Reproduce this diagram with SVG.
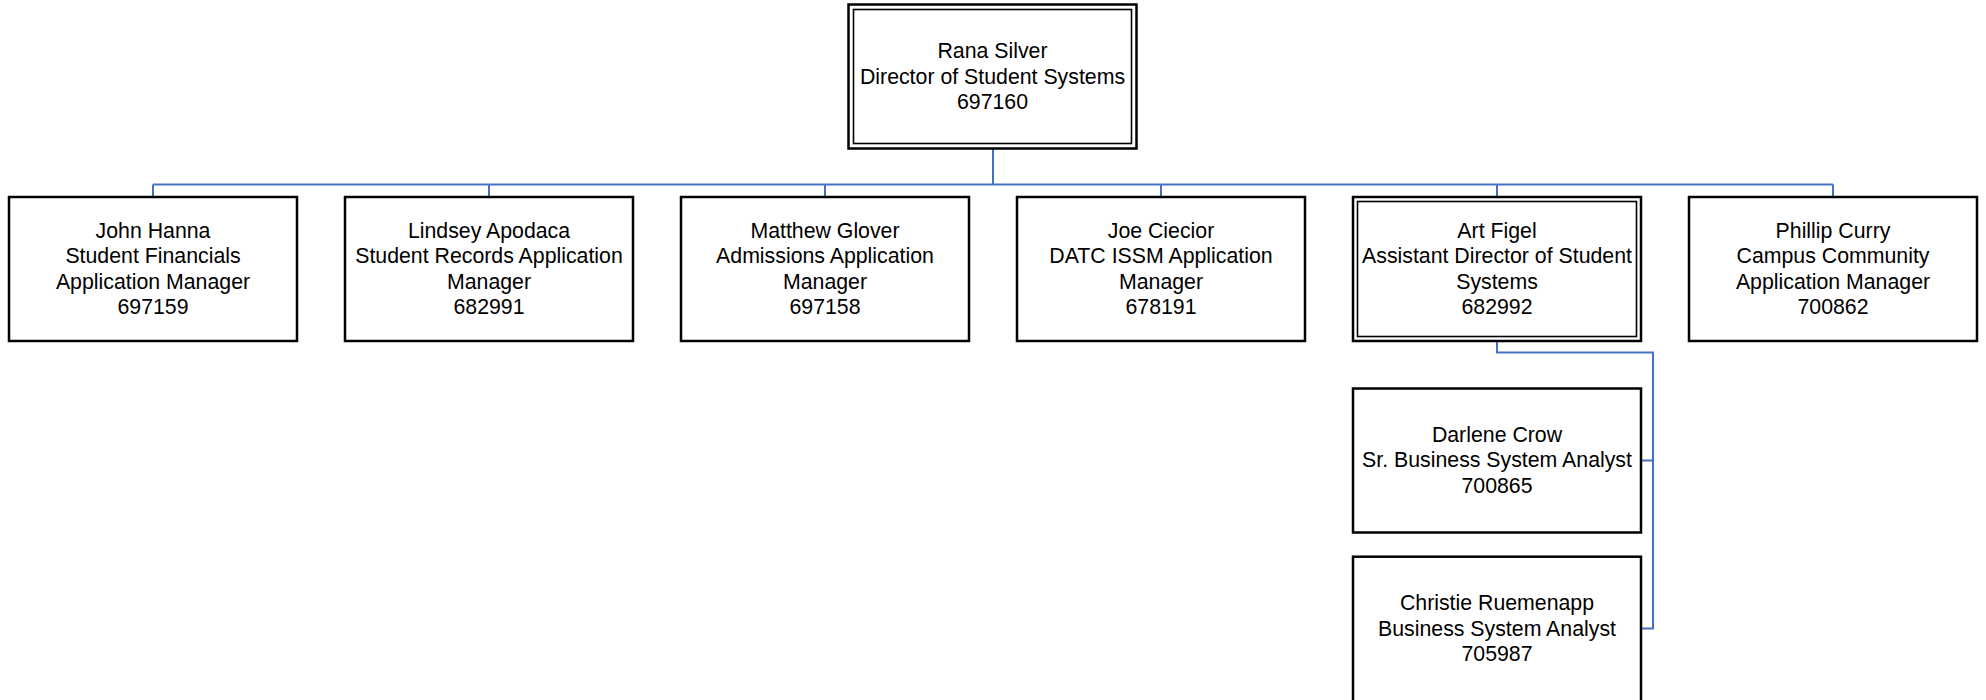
<svg xmlns="http://www.w3.org/2000/svg" width="1986" height="700" viewBox="0 0 1986 700">
<style>
  .box { fill: #ffffff; stroke: #000000; stroke-width: 2.5; }
  .inner { fill: none; stroke: #000000; stroke-width: 1.6; }
  .lbl { font-family: "Liberation Sans", Arial, sans-serif; font-size: 21.3px; fill: #000000; text-anchor: middle; }
  .conn { fill: none; stroke: #4472C4; stroke-width: 2; }
</style>
<rect width="1986" height="700" fill="#ffffff"/>
<g id="connectors">
  <path class="conn" d="M993 148.5 V184.5"/>
  <path class="conn" d="M153 184.5 H1833"/>
  <path class="conn" d="M153 184.5 V197 M489 184.5 V197 M825 184.5 V197 M1161 184.5 V197 M1497 184.5 V197 M1833 184.5 V197"/>
  <path class="conn" d="M1497 341 V352.5 H1653 V628.5 H1641 M1653 460.5 H1641"/>
</g>
<g id="rana-silver">
  <rect class="box" x="848.5" y="4.5" width="288" height="144"/>
  <rect class="inner" x="853.5" y="9.5" width="278" height="134"/>
  <text class="lbl" x="992.5"><tspan x="992.5" y="58">Rana Silver</tspan><tspan x="992.5" y="83.5">Director of Student Systems</tspan><tspan x="992.5" y="109">697160</tspan></text>
</g>
<g id="john-hanna">
  <rect class="box" x="9" y="197" width="288" height="144"/>
  <text class="lbl"><tspan x="153" y="237.8">John Hanna</tspan><tspan x="153" y="263.3">Student Financials</tspan><tspan x="153" y="288.8">Application Manager</tspan><tspan x="153" y="314.3">697159</tspan></text>
</g>
<g id="lindsey-apodaca">
  <rect class="box" x="345" y="197" width="288" height="144"/>
  <text class="lbl"><tspan x="489" y="237.8">Lindsey Apodaca</tspan><tspan x="489" y="263.3">Student Records Application</tspan><tspan x="489" y="288.8">Manager</tspan><tspan x="489" y="314.3">682991</tspan></text>
</g>
<g id="matthew-glover">
  <rect class="box" x="681" y="197" width="288" height="144"/>
  <text class="lbl"><tspan x="825" y="237.8">Matthew Glover</tspan><tspan x="825" y="263.3">Admissions Application</tspan><tspan x="825" y="288.8">Manager</tspan><tspan x="825" y="314.3">697158</tspan></text>
</g>
<g id="joe-ciecior">
  <rect class="box" x="1017" y="197" width="288" height="144"/>
  <text class="lbl"><tspan x="1161" y="237.8">Joe Ciecior</tspan><tspan x="1161" y="263.3">DATC ISSM Application</tspan><tspan x="1161" y="288.8">Manager</tspan><tspan x="1161" y="314.3">678191</tspan></text>
</g>
<g id="art-figel">
  <rect class="box" x="1353" y="197" width="288" height="144"/>
  <rect class="inner" x="1357.5" y="201.5" width="279" height="135"/>
  <text class="lbl"><tspan x="1497" y="237.8">Art Figel</tspan><tspan x="1497" y="263.3">Assistant Director of Student</tspan><tspan x="1497" y="288.8">Systems</tspan><tspan x="1497" y="314.3">682992</tspan></text>
</g>
<g id="phillip-curry">
  <rect class="box" x="1689" y="197" width="288" height="144"/>
  <text class="lbl"><tspan x="1833" y="237.8">Phillip Curry</tspan><tspan x="1833" y="263.3">Campus Community</tspan><tspan x="1833" y="288.8">Application Manager</tspan><tspan x="1833" y="314.3">700862</tspan></text>
</g>
<g id="darlene-crow">
  <rect class="box" x="1353" y="388.5" width="288" height="144"/>
  <text class="lbl"><tspan x="1497" y="441.7">Darlene Crow</tspan><tspan x="1497" y="467.2">Sr. Business System Analyst</tspan><tspan x="1497" y="492.7">700865</tspan></text>
</g>
<g id="christie-ruemenapp">
  <rect class="box" x="1353" y="556.7" width="288" height="148"/>
  <text class="lbl"><tspan x="1497" y="610.2">Christie Ruemenapp</tspan><tspan x="1497" y="635.7">Business System Analyst</tspan><tspan x="1497" y="661.2">705987</tspan></text>
</g>
</svg>
